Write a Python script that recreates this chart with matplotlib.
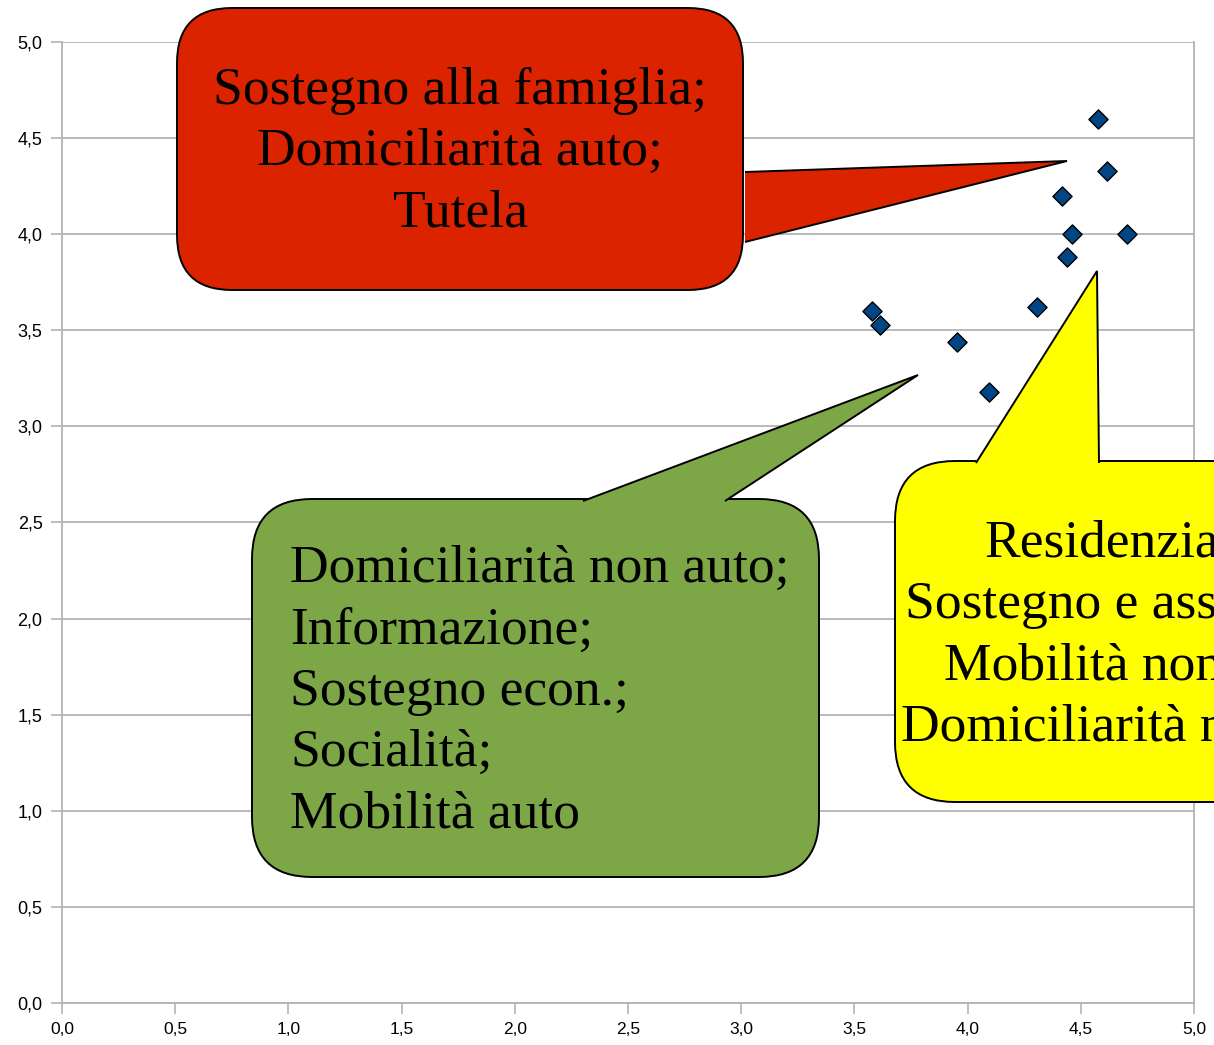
import matplotlib
matplotlib.use("Agg")
import matplotlib.pyplot as plt
from matplotlib.patches import FancyBboxPatch, Polygon
import numpy as np

# scatter values
x_vals = [4.576, 4.614, 4.417, 4.462, 4.704, 4.440, 4.308, 3.576, 3.612, 3.954, 4.095]
y_vals = [4.60, 4.33, 4.20, 4.00, 4.00, 3.88, 3.62, 3.60, 3.53, 3.44, 3.18]

ticks = np.arange(0, 5.01, 0.5)
tick_labels = [f"{t:.1f}".replace(".", ",") for t in ticks]

red_text = "Sostegno alla famiglia;\nDomiciliarità auto;\nTutela"
green_text = "Domiciliarità non auto;\nInformazione;\nSostegno econ.;\nSocialità;\nMobilità auto"
yellow_text = "Residenzialità;\nSostegno e assistenza;\nMobilità non auto;\nDomiciliarità non auto"

W, H = 1214, 1045
fig = plt.figure(figsize=(W / 100, H / 100), dpi=100)
ax = fig.add_axes([62 / W, 42 / H, 1132 / W, 961 / H])

ax.scatter(x_vals, y_vals, marker="D", s=95, color="#004586",
           edgecolors="black", linewidths=1.0, zorder=3, clip_on=False)

ax.set_xlim(0, 5)
ax.set_ylim(0, 5)
ax.set_xticks(ticks)
ax.set_yticks(ticks)
ax.set_xticklabels(tick_labels, family=["Liberation Sans Narrow", "Liberation Sans"], fontsize=12.5)
ax.set_yticklabels(tick_labels, family="Liberation Sans", fontsize=13)
ax.tick_params(length=8, width=1.2, color="#b3b3b3", direction="out", pad=6)
ax.tick_params(axis="x", pad=6)
ax.grid(axis="y", color="#b3b3b3", lw=1.3)
ax.set_axisbelow(True)
for s in ["left", "bottom", "right"]:
    ax.spines[s].set_color("#b3b3b3")
    ax.spines[s].set_linewidth(1.3)
ax.spines["top"].set_visible(False)


def px(x, y):
    # top-left pixel coords -> figure fraction
    return (x / W, 1 - y / H)


def callout(x0, y0, x1, y1, r, tail, color):
    (fx0, fy1), (fx1, fy0) = px(x0, y0), px(x1, y1)
    box = FancyBboxPatch((fx0, fy0), fx1 - fx0, fy1 - fy0,
                         boxstyle=f"round,pad=0,rounding_size={r / W}",
                         transform=fig.transFigure, facecolor=color,
                         edgecolor="black", lw=1.4, zorder=5,
                         mutation_aspect=W / H)
    fig.add_artist(box)
    pts = [px(*p) for p in tail]
    fig.add_artist(Polygon(pts, closed=False, transform=fig.transFigure,
                           facecolor=color, edgecolor="black", lw=1.4, zorder=6))


callout(177, 8, 743, 290, 55, [(745, 172), (1067, 161), (745, 242)], "#dc2300")
callout(252, 499, 819, 877, 60, [(583, 501), (918, 375), (725, 501)], "#7da647")
callout(895, 461, 1390, 802, 60, [(976, 463), (1097, 271), (1099, 463)], "#ffff00")

serif = ["Liberation Serif", "DejaVu Serif"]
fig.text(*px(460, 152), red_text, ha="center", va="center", multialignment="center",
         family=serif, fontsize=38.5, linespacing=1.36, zorder=7)
fig.text(*px(290, 692), green_text, ha="left", va="center", multialignment="left",
         family=serif, fontsize=38.5, linespacing=1.36, zorder=7)
fig.text(*px(1143, 636), yellow_text, ha="center", va="center", multialignment="center",
         family=serif, fontsize=38.5, linespacing=1.36, zorder=7)

fig.savefig("out.png", dpi=100)
